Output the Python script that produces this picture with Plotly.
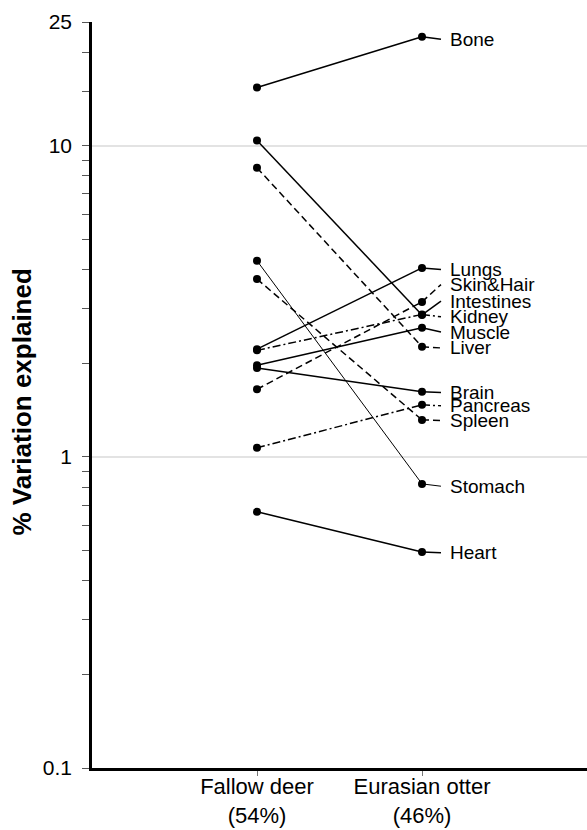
import numpy as np
import plotly.graph_objects as go

# --- data ---
tissues = ["Bone", "Lungs", "Skin&Hair", "Intestines", "Kidney", "Muscle",
           "Liver", "Brain", "Pancreas", "Spleen", "Stomach", "Heart"]
fallow_deer = [15.4, 2.22, 1.65, 10.4, 2.20, 1.97, 8.5, 1.93, 1.07, 3.73, 4.27, 0.666]
eurasian_otter = [22.4, 4.05, 3.15, 2.86, 2.87, 2.60, 2.26, 1.62, 1.47, 1.315, 0.819, 0.495]
# where each repelled label sits on the value axis
label_at = [22.0, 4.00, 3.58, 3.17, 2.82, 2.52, 2.24, 1.61, 1.46, 1.31, 0.805, 0.492]
styles = ["solid", "solid", "dash", "solid", "dashdot", "solid",
          "dash", "solid", "dashdot", "dash", "thin", "solid"]
categories = ["Fallow deer<br>(54%)", "Eurasian otter<br>(46%)"]
y_ticks = [0.1, 1, 10, 25]
y_tick_text = ["0.1", "1", "10", "25"]
y_minor = [0.2, 0.3, 0.4, 0.5, 0.6, 0.7, 0.8, 0.9, 2, 3, 4, 5, 6, 7, 8, 9, 15, 20]

dash_map = {"solid": "solid", "thin": "solid", "dash": "7px,4px",
            "dashdot": "8px,3px,2px,3px"}

FONT = "Liberation Sans, Arial"
fig = go.Figure()
X_DEER, X_OTTER = 1, 2
LEAD_END, TEXT_X = 2.115, 2.155

for name, a, b, ly, st in zip(tissues, fallow_deer, eurasian_otter, label_at, styles):
    w = 1.0 if st == "thin" else 1.5
    d = dash_map[st]
    fig.add_trace(go.Scatter(
        x=[X_DEER, X_OTTER], y=[a, b], mode="lines+markers",
        line=dict(color="black", width=w, dash=d),
        marker=dict(color="black", size=8), showlegend=False, hoverinfo="skip"))
    fig.add_trace(go.Scatter(
        x=[X_OTTER, LEAD_END], y=[b, ly], mode="lines",
        line=dict(color="black", width=w, dash=d),
        showlegend=False, hoverinfo="skip"))
    fig.add_annotation(x=TEXT_X, y=np.log10(ly), text=name, showarrow=False,
                       xanchor="left", yanchor="middle",
                       font=dict(size=19, color="black", family=FONT))

fig.add_annotation(x=-0.1414, xref="paper", y=0.49, yref="paper",
                   text="<b>% Variation explained</b>", textangle=-90, showarrow=False,
                   xanchor="center", yanchor="middle",
                   font=dict(size=26, color="black", family=FONT))

fig.update_layout(
    width=587, height=830,
    margin=dict(l=92, r=0, t=22, b=62, autoexpand=False),
    paper_bgcolor="white", plot_bgcolor="white",
    font=dict(family=FONT, color="black"),
    xaxis=dict(range=[0, 3], tickvals=[X_DEER, X_OTTER], ticktext=categories,
               automargin=False,
               showgrid=False, zeroline=False, showline=True, linecolor="black",
               linewidth=2.5, ticks="outside", ticklen=5, tickcolor="#777",
               ticklabelstandoff=-8,
               tickfont=dict(size=22, color="black")),
    yaxis=dict(type="log", range=[-1, np.log10(25)], tickvals=y_ticks,
               ticktext=y_tick_text, showgrid=True, gridcolor="#e3e3e3", gridwidth=1.5,
               automargin=False,
               zeroline=False, showline=True, linecolor="black", linewidth=2.5,
               ticks="outside", ticklen=7, tickcolor="#555", ticklabelstandoff=6,
               tickfont=dict(size=21, color="black"),
               minor=dict(tickvals=y_minor, ticks="outside", ticklen=7,
                          tickcolor="#555", showgrid=False)),
)

fig.write_html("out.html", config={"displayModeBar": False},
               post_script="document.body.style.margin='0';document.body.style.overflow='hidden';")
